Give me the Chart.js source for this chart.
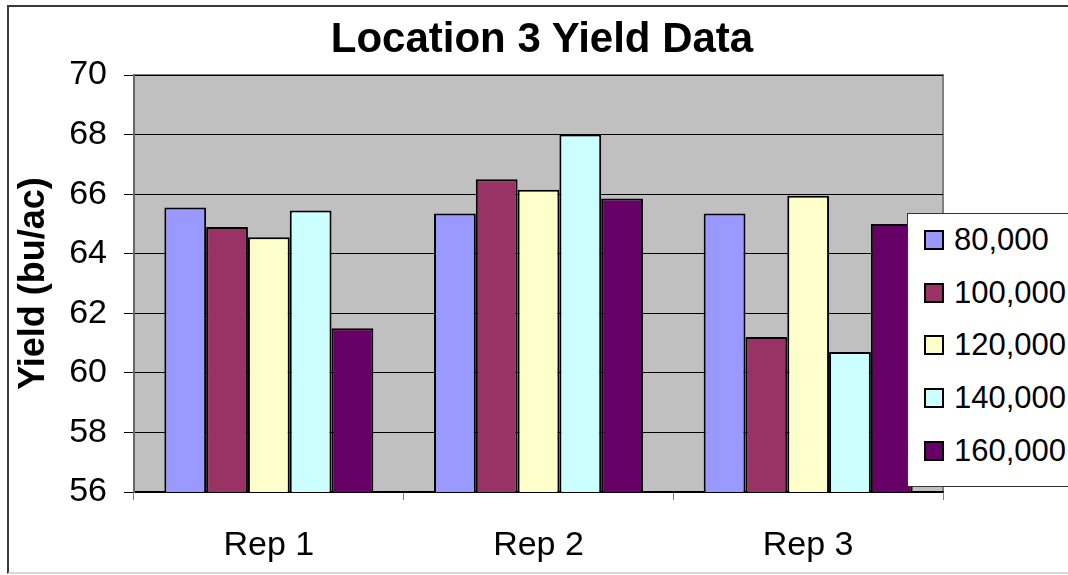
<!DOCTYPE html>
<html>
<head>
<meta charset="utf-8">
<script src="https://cdn.jsdelivr.net/npm/chart.js@4/dist/chart.umd.min.js"></script>
<style>
  html, body { margin: 0; padding: 0; background: #fff; overflow: hidden; }
  #wrap { position: relative; width: 1068px; height: 575px; overflow: hidden; }
  #frame { position: absolute; left: 7px; top: 5px; width: 1100px; height: 569px;
           border: 2px solid #3a3a3a; border-bottom-color: #d8d8d8; box-sizing: border-box; }
  #chart { position: absolute; left: 0; top: 0; }
  #title { position: absolute; left: 0; top: 14px; width: 1084px; text-align: center;
           font-family: "Liberation Sans", Arial, sans-serif; font-size: 42px; font-weight: bold;
           line-height: 48px; color: #000; white-space: nowrap; }
  #legend { position: absolute; left: 907px; top: 213px; width: 200px; height: 274px;
            background: #fff; border: 1.5px solid #333; box-sizing: border-box;
            font-family: "Liberation Sans", Arial, sans-serif; font-size: 31px; color: #000; }
  .item { position: absolute; left: 16px; height: 30px; line-height: 30px; white-space: nowrap; }
  .sw { display: inline-block; width: 16px; height: 16px; border: 2px solid #000;
        vertical-align: middle; margin-right: 10px; position: relative; top: -2px; }
</style>
</head>
<body>
<div id="wrap">
  <div id="frame"></div>
  <canvas id="chart" width="1068" height="575"></canvas>
  <div id="title"></div>
  <div id="legend"></div>
</div>
<script>
const chartTitle = "Location 3 Yield Data";
const categories = ["Rep 1", "Rep 2", "Rep 3"];
const seriesNames = ["80,000", "100,000", "120,000", "140,000", "160,000"];
const seriesColors = ["#9999FF", "#993366", "#FFFFCC", "#CCFFFF", "#660066"];
const yield80 = [65.55, 65.35, 65.35];
const yield100 = [64.9, 66.5, 61.2];
const yield120 = [64.55, 66.15, 65.95];
const yield140 = [65.45, 68.0, 60.7];
const yield160 = [61.5, 65.85, 65.0];
const yTicks = [56, 58, 60, 62, 64, 66, 68, 70];

const seriesValues = [yield80, yield100, yield120, yield140, yield160];
const font = "'Liberation Sans', Arial, sans-serif";

// grey plot area with the darker top/right edge, like the Excel original
const plotBg = {
  id: "plotBg",
  beforeDraw(chart) {
    const a = chart.chartArea;
    const c = chart.ctx;
    c.save();
    c.fillStyle = "#C0C0C0";
    c.fillRect(a.left, a.top, a.right - a.left, a.bottom - a.top);
    c.strokeStyle = "#808080";
    c.lineWidth = 2;
    c.beginPath();
    c.moveTo(a.left, a.top);
    c.lineTo(a.right, a.top);
    c.lineTo(a.right, a.bottom);
    c.stroke();
    c.restore();
  }
};

const datasets = seriesNames.map((name, i) => ({
  label: name,
  data: seriesValues[i],
  backgroundColor: seriesColors[i],
  borderColor: "#000",
  borderWidth: 2,
  borderSkipped: false
}));

new Chart(document.getElementById("chart"), {
  type: "bar",
  data: { labels: categories, datasets: datasets },
  options: {
    responsive: false,
    devicePixelRatio: 1,
    animation: false,
    layout: { padding: { left: 0, right: 125, top: 75, bottom: 0 } },
    datasets: { bar: { categoryPercentage: 0.775, barPercentage: 1.0 } },
    plugins: {
      legend: { display: false },
      tooltip: { enabled: false },
      title: { display: false }
    },
    scales: {
      x: {
        grid: { offset: true, drawOnChartArea: false, tickLength: 8, color: "#808080" },
        border: { color: "#000", width: 1.5 },
        ticks: { color: "#000", font: { family: font, size: 34 }, padding: 25 },
        afterFit(s) { s.height = 83; }
      },
      y: {
        min: 56, max: 70,
        afterBuildTicks(s) { s.ticks = yTicks.map(v => ({ value: v })); },
        grid: { color: "#000", tickLength: 10, lineWidth: 1 },
        border: { color: "#666", width: 2 },
        ticks: { color: "#000", font: { family: font, size: 34 }, padding: 17 },
        title: {
          display: true,
          text: "Yield (bu/ac)",
          color: "#000",
          font: { family: font, size: 36, weight: "bold" },
          padding: { top: 12, bottom: 0 }
        },
        afterFit(s) { s.width = 134; }
      }
    }
  },
  plugins: [plotBg]
});

document.getElementById("title").textContent = chartTitle;

const legend = document.getElementById("legend");
seriesNames.forEach((name, i) => {
  const item = document.createElement("div");
  item.className = "item";
  item.style.top = (11 + i * 52.7) + "px";
  item.innerHTML = '<span class="sw" style="background:' + seriesColors[i] + '"></span>' + name;
  legend.appendChild(item);
});
</script>
</body>
</html>
